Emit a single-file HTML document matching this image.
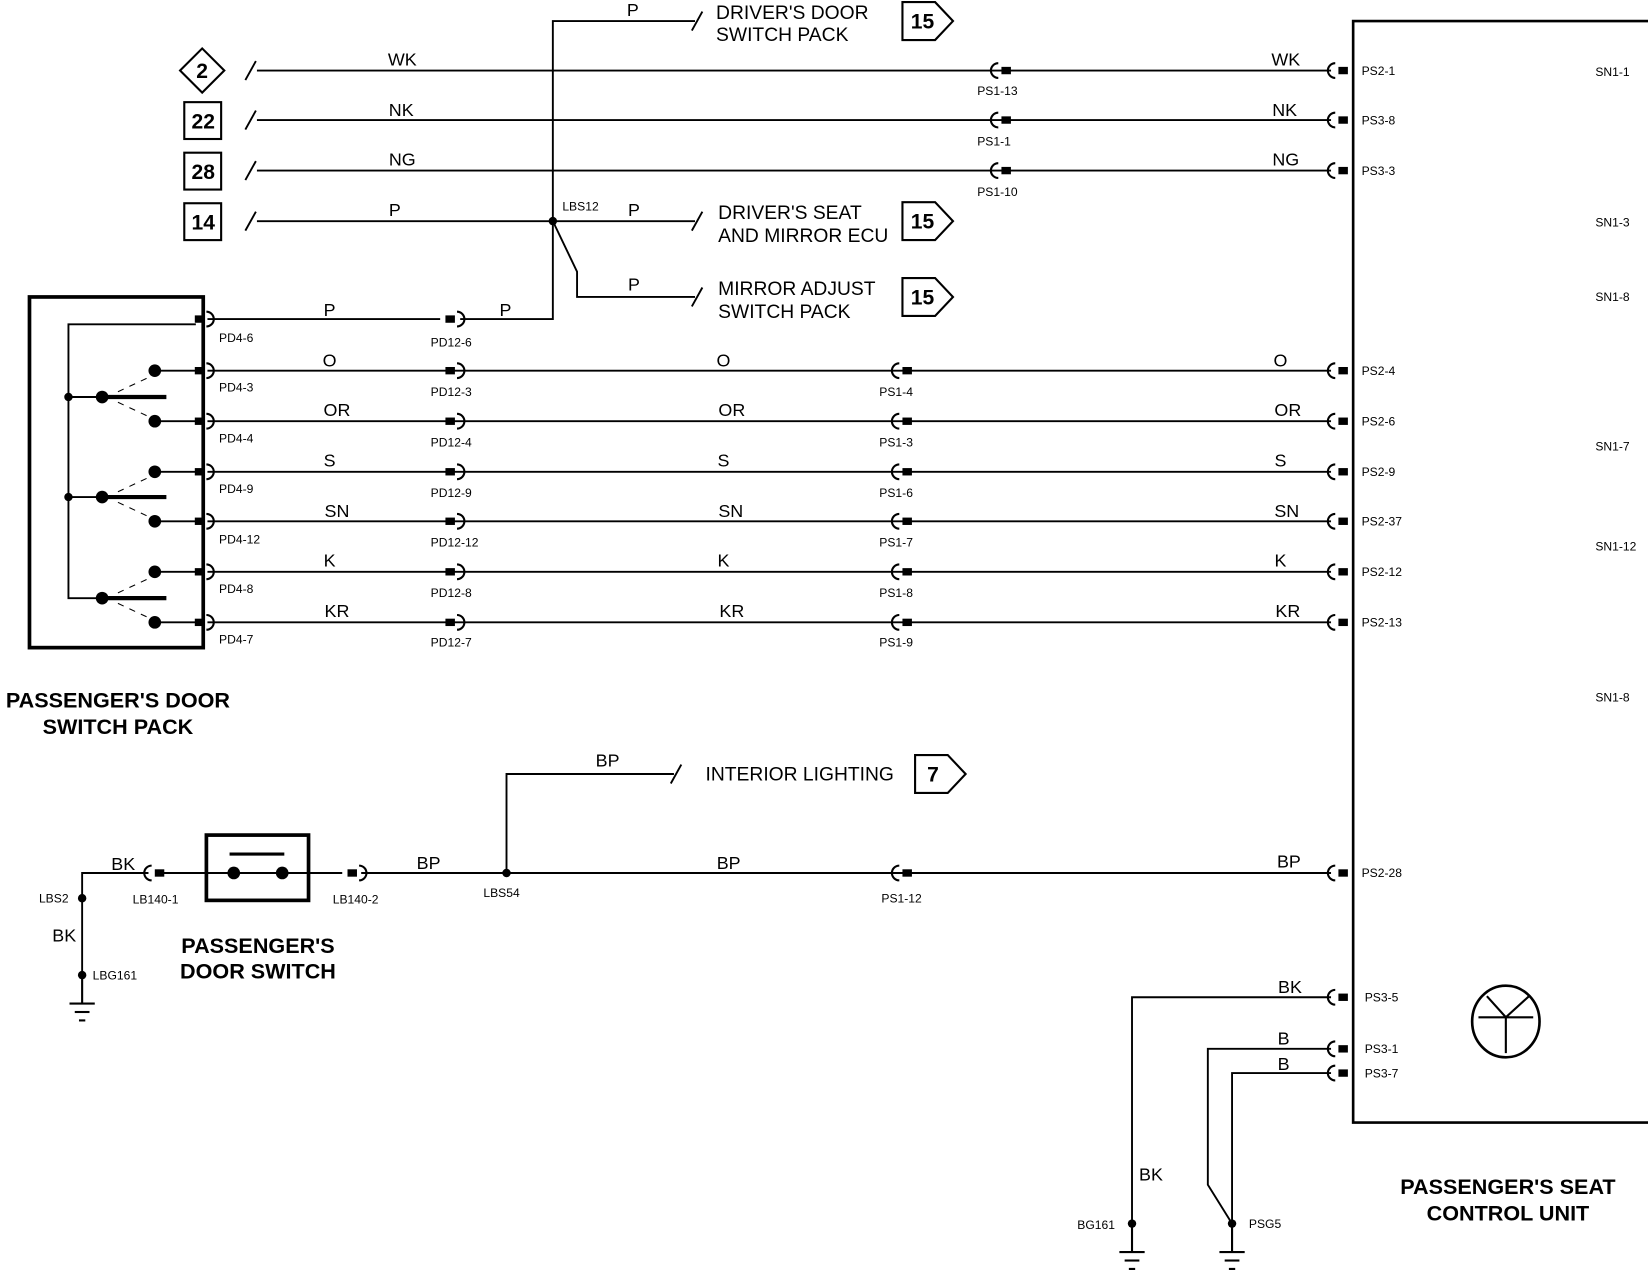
<!DOCTYPE html>
<html><head><meta charset="utf-8"><style>
html,body{margin:0;padding:0;background:#fff}
svg{display:block}
text{font-family:"Liberation Sans",Arial,sans-serif;fill:#000}
.w{font-size:17px}
.s{font-size:11.5px}
.m{font-size:18.3px}
.b{font-size:20.5px;font-weight:bold}
.n{font-size:20px;font-weight:bold}
</style></head><body>
<svg width="1648" height="1270" viewBox="0 0 1565 1206" preserveAspectRatio="none" xmlns="http://www.w3.org/2000/svg">
<defs>
<g id="f"><path d="M-4,-7 A7,7 0 0 0 -4,7" fill="none" stroke="#000" stroke-width="2"/><rect x="-1" y="-3.5" width="9" height="7" fill="#000"/></g>
<g id="mm"><rect x="-9" y="-3.5" width="9" height="7" fill="#000"/><path d="M2,-7 A7,7 0 0 1 2,7" fill="none" stroke="#000" stroke-width="2"/></g>
<g id="gnd"><line x1="0" y1="0" x2="0" y2="25" stroke="#000" stroke-width="2"/><line x1="-12" y1="25" x2="12" y2="25" stroke="#000" stroke-width="2"/><line x1="-7" y1="33" x2="7" y2="33" stroke="#000" stroke-width="2"/><line x1="-3" y1="41" x2="3" y2="41" stroke="#000" stroke-width="2"/></g>
</defs>
<g stroke="#000" stroke-width="1.8" fill="none">
<path d="M1565,20 H1285 V1066 H1565" stroke-width="2.5"/>
<line x1="244" y1="67" x2="1264" y2="67"/>
<line x1="244" y1="114" x2="1264" y2="114"/>
<line x1="244" y1="162" x2="1264" y2="162"/>
<line x1="244" y1="210" x2="660" y2="210"/>
<path d="M233,76 L243,58 M233,123 L243,105 M233,171 L243,153 M233,219 L243,201"/>
<path d="M660,20 H525 V303 H437"/>
<path d="M657,29 L667,11 M657,219 L667,201 M657,291 L667,273 M637,744 L647,726"/>
<path d="M525,210 L548,258 V282 H660"/>
<line x1="197" y1="303" x2="418" y2="303"/>
<line x1="197" y1="352" x2="1264" y2="352"/>
<line x1="197" y1="400" x2="1264" y2="400"/>
<line x1="197" y1="448" x2="1264" y2="448"/>
<line x1="197" y1="495" x2="1264" y2="495"/>
<line x1="197" y1="543" x2="1264" y2="543"/>
<line x1="197" y1="591" x2="1264" y2="591"/>
<rect x="28" y="282" width="165" height="333" stroke-width="3.5"/>
<path d="M186,308 H65 V568 H97"/>
<path d="M65,377 H97 M65,472 H97"/>
<path d="M147,352 H186 M147,400 H186 M147,448 H186 M147,495 H186 M147,543 H186 M147,591 H186"/>
<path d="M97,377 H158 M97,472 H158 M97,568 H158" stroke-width="4"/>
<path d="M112,372 L142,358 M112,382 L142,396 M112,467 L142,453 M112,477 L142,491 M112,563 L142,549 M112,573 L142,587" stroke-dasharray="6,6" stroke-width="1"/>
<line x1="155" y1="829" x2="325" y2="829"/>
<line x1="343" y1="829" x2="1264" y2="829"/>
<path d="M481,829 V735 H640"/>
<path d="M141,829 H78 V926"/>
<rect x="196" y="793" width="97" height="62" stroke-width="3.5"/>
<line x1="218" y1="811" x2="270" y2="811" stroke-width="3"/>
<path d="M1264,947 H1075 V1162"/>
<path d="M1264,996 H1147 V1125 L1170,1162"/>
<path d="M1264,1019 H1170 V1162"/>
<ellipse cx="1430" cy="970" rx="32" ry="34" stroke-width="2.5"/>
<path d="M1404,966 H1456 M1430,966 V1000 M1430,966 L1412,946 M1430,966 L1452,946" stroke-width="2"/>
<path d="M192,46 L213,67 L192,88 L171,67 Z" stroke-width="2"/>
<rect x="175" y="97" width="35" height="35" stroke-width="2"/>
<rect x="175" y="145" width="35" height="35" stroke-width="2"/>
<rect x="175" y="193" width="35" height="35" stroke-width="2"/>
<path d="M857,2 H888 L905,20 L888,38 H857 Z" stroke-width="2"/>
<path d="M857,192 H888 L905,210 L888,228 H857 Z" stroke-width="2"/>
<path d="M857,264 H888 L905,282 L888,300 H857 Z" stroke-width="2"/>
<path d="M869,717 H900 L917,735 L900,753 H869 Z" stroke-width="2"/>
</g>
<g fill="#000">
<circle cx="525" cy="210" r="4"/><circle cx="65" cy="377" r="4"/><circle cx="65" cy="472" r="4"/>
<circle cx="97" cy="377" r="6"/><circle cx="97" cy="472" r="6"/><circle cx="97" cy="568" r="6"/>
<circle cx="147" cy="352" r="6"/><circle cx="147" cy="400" r="6"/><circle cx="147" cy="448" r="6"/><circle cx="147" cy="495" r="6"/><circle cx="147" cy="543" r="6"/><circle cx="147" cy="591" r="6"/>
<circle cx="222" cy="829" r="6"/><circle cx="268" cy="829" r="6"/>
<circle cx="481" cy="829" r="4"/><circle cx="78" cy="853" r="4"/><circle cx="78" cy="926" r="4"/>
<circle cx="1075" cy="1162" r="4"/><circle cx="1170" cy="1162" r="4"/>
</g>
<use href="#gnd" x="78" y="928"/><use href="#gnd" x="1075" y="1164"/><use href="#gnd" x="1170" y="1164"/>
<use href="#f" x="1272" y="67"/><use href="#f" x="1272" y="114"/><use href="#f" x="1272" y="162"/>
<use href="#f" x="952" y="67"/><use href="#f" x="952" y="114"/><use href="#f" x="952" y="162"/>
<use href="#f" x="1272" y="352"/><use href="#f" x="1272" y="400"/><use href="#f" x="1272" y="448"/><use href="#f" x="1272" y="495"/><use href="#f" x="1272" y="543"/><use href="#f" x="1272" y="591"/>
<use href="#f" x="858" y="352"/><use href="#f" x="858" y="400"/><use href="#f" x="858" y="448"/><use href="#f" x="858" y="495"/><use href="#f" x="858" y="543"/><use href="#f" x="858" y="591"/>
<use href="#mm" x="432" y="303"/><use href="#mm" x="432" y="352"/><use href="#mm" x="432" y="400"/><use href="#mm" x="432" y="448"/><use href="#mm" x="432" y="495"/><use href="#mm" x="432" y="543"/><use href="#mm" x="432" y="591"/>
<use href="#mm" x="194" y="303"/><use href="#mm" x="194" y="352"/><use href="#mm" x="194" y="400"/><use href="#mm" x="194" y="448"/><use href="#mm" x="194" y="495"/><use href="#mm" x="194" y="543"/><use href="#mm" x="194" y="591"/>
<use href="#mm" x="339" y="829"/><use href="#f" x="148" y="829"/><use href="#f" x="858" y="829"/>
<use href="#f" x="1272" y="829"/><use href="#f" x="1272" y="947"/><use href="#f" x="1272" y="996"/><use href="#f" x="1272" y="1019"/>
<g class="n" text-anchor="middle">
<text x="192" y="74">2</text><text x="193" y="122">22</text><text x="193" y="170">28</text><text x="193" y="218">14</text>
<text x="876" y="27">15</text><text x="876" y="217">15</text><text x="876" y="289">15</text><text x="886" y="742">7</text>
</g>
<g class="w" text-anchor="middle">
<text x="382" y="62">WK</text><text x="1221" y="62">WK</text>
<text x="381" y="110">NK</text><text x="1220" y="110">NK</text>
<text x="382" y="157">NG</text><text x="1221" y="157">NG</text>
<text x="375" y="205">P</text><text x="602" y="205">P</text><text x="601" y="15">P</text><text x="602" y="276">P</text>
<text x="313" y="300">P</text><text x="480" y="300">P</text>
<text x="313" y="348">O</text><text x="687" y="348">O</text><text x="1216" y="348">O</text>
<text x="320" y="395">OR</text><text x="695" y="395">OR</text><text x="1223" y="395">OR</text>
<text x="313" y="443">S</text><text x="687" y="443">S</text><text x="1216" y="443">S</text>
<text x="320" y="491">SN</text><text x="694" y="491">SN</text><text x="1222" y="491">SN</text>
<text x="313" y="538">K</text><text x="687" y="538">K</text><text x="1216" y="538">K</text>
<text x="320" y="586">KR</text><text x="695" y="586">KR</text><text x="1223" y="586">KR</text>
<text x="577" y="728">BP</text><text x="407" y="825">BP</text><text x="692" y="825">BP</text><text x="1224" y="824">BP</text>
<text x="117" y="826">BK</text><text x="61" y="894">BK</text>
<text x="1225" y="943">BK</text><text x="1219" y="992">B</text><text x="1219" y="1016">B</text><text x="1093" y="1121">BK</text>
</g>
<g class="m">
<text x="680" y="18">DRIVER'S DOOR</text><text x="680" y="39">SWITCH PACK</text>
<text x="682" y="208">DRIVER'S SEAT</text><text x="682" y="230">AND MIRROR ECU</text>
<text x="682" y="280">MIRROR ADJUST</text><text x="682" y="302">SWITCH PACK</text>
<text x="670" y="741">INTERIOR LIGHTING</text>
</g>
<g class="s">
<text x="1293" y="71">PS2-1</text><text x="1293" y="118">PS3-8</text><text x="1293" y="166">PS3-3</text>
<text x="1293" y="356">PS2-4</text><text x="1293" y="404">PS2-6</text><text x="1293" y="452">PS2-9</text><text x="1293" y="499">PS2-37</text><text x="1293" y="547">PS2-12</text><text x="1293" y="595">PS2-13</text>
<text x="1293" y="833">PS2-28</text><text x="1296" y="951">PS3-5</text><text x="1296" y="1000">PS3-1</text><text x="1296" y="1023">PS3-7</text>
<text x="928" y="90">PS1-13</text><text x="928" y="138">PS1-1</text><text x="928" y="186">PS1-10</text>
<text x="835" y="376">PS1-4</text><text x="835" y="424">PS1-3</text><text x="835" y="472">PS1-6</text><text x="835" y="519">PS1-7</text><text x="835" y="567">PS1-8</text><text x="835" y="614">PS1-9</text><text x="837" y="857">PS1-12</text>
<text x="409" y="329">PD12-6</text><text x="409" y="376">PD12-3</text><text x="409" y="424">PD12-4</text><text x="409" y="472">PD12-9</text><text x="409" y="519">PD12-12</text><text x="409" y="567">PD12-8</text><text x="409" y="614">PD12-7</text>
<text x="208" y="325">PD4-6</text><text x="208" y="372">PD4-3</text><text x="208" y="420">PD4-4</text><text x="208" y="468">PD4-9</text><text x="208" y="516">PD4-12</text><text x="208" y="563">PD4-8</text><text x="208" y="611">PD4-7</text>
<text x="534" y="200">LBS12</text><text x="459" y="852">LBS54</text><text x="316" y="858">LB140-2</text><text x="126" y="858">LB140-1</text>
<text x="37" y="857">LBS2</text><text x="88" y="930">LBG161</text><text x="1023" y="1167">BG161</text><text x="1186" y="1166">PSG5</text>
<text x="1515" y="72">SN1-1</text><text x="1515" y="215">SN1-3</text><text x="1515" y="286">SN1-8</text><text x="1515" y="428">SN1-7</text><text x="1515" y="523">SN1-12</text><text x="1515" y="666">SN1-8</text>
</g>
<g class="b" text-anchor="middle">
<text x="112" y="672">PASSENGER'S DOOR</text><text x="112" y="697">SWITCH PACK</text>
<text x="245" y="905">PASSENGER'S</text><text x="245" y="929">DOOR SWITCH</text>
<text x="1432" y="1134">PASSENGER'S SEAT</text><text x="1432" y="1159">CONTROL UNIT</text>
</g>
</svg>
</body></html>
